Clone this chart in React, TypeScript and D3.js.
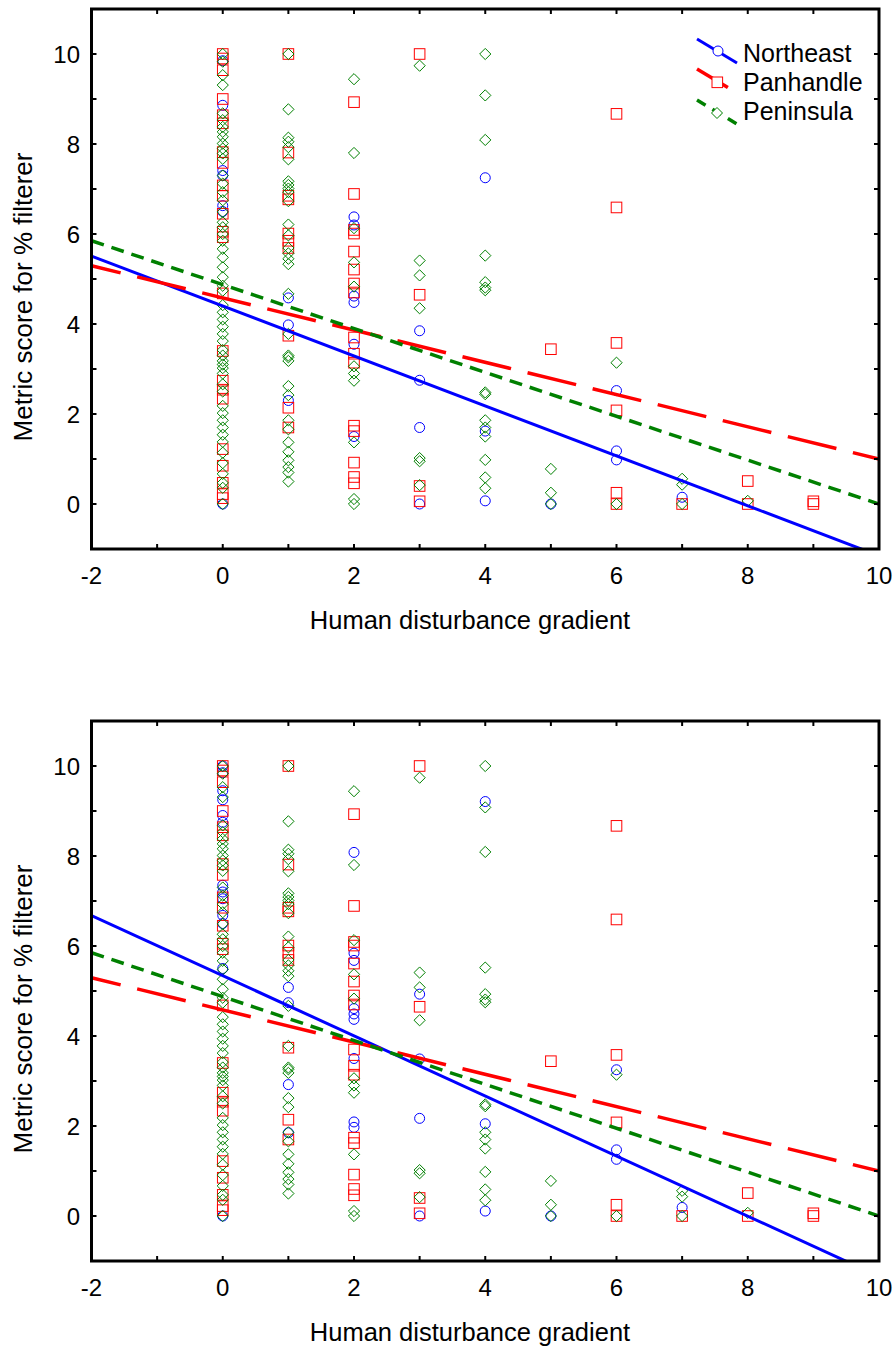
import React from 'react';
import * as d3 from 'd3';

// ---------- data ----------
const xTickValues = [-2, 0, 2, 4, 6, 8, 10];
const yTickValues = [0, 2, 4, 6, 8, 10];
const seriesNames = ['Northeast', 'Panhandle', 'Peninsula'];
const xTitle = 'Human disturbance gradient';
const yTitle = 'Metric score for % filterer';

// y values per disturbance level (array index = x value)
const northeastTop: number[][] = [
  [9.85, 8.86, 7.41, 7.3, 6.63, 6.5, 0],
  [4.58, 3.98, 2.3],
  [6.38, 6.2, 4.62, 4.48, 3.55, 1.5],
  [3.85, 2.75, 1.7, 0],
  [7.25, 1.62, 0.07],
  [0],
  [2.52, 1.18, 0.98],
  [0.15],
];

const northeastBottom: number[][] = [
  [10, 9.85, 9.45, 9.25, 8.9, 8.75, 7.35, 7.2, 7.05, 6.68, 6.5, 5.5, 0],
  [5.08, 4.74, 2.92, 1.85],
  [8.08, 5.84, 5.68, 4.61, 4.49, 4.37, 3.5, 2.09, 1.97],
  [4.93, 3.49, 2.17, 0],
  [9.21, 2.05, 0.11],
  [0],
  [3.25, 1.47, 1.26],
  [0.19],
];

const panhandle: number[][] = [
  [10, 9.9, 9.64, 9.0, 8.64, 8.46, 7.82, 7.58, 7.08, 6.85, 6.45, 6.05, 5.93, 4.68, 3.4, 2.74, 2.54, 2.34, 1.22, 0.85, 0.47, 0.22, 0.13],
  [10, 7.81, 6.85, 6.77, 6.01, 5.85, 5.69, 3.74, 2.14, 1.7],
  [8.93, 6.89, 6.09, 6.01, 5.61, 5.21, 4.9, 4.7, 3.7, 3.34, 3.14, 1.74, 1.62, 0.92, 0.6, 0.46],
  [10, 4.65, 0.4, 0.06],
  [],
  [3.44],
  [8.67, 6.59, 3.58, 2.08, 0.25, 0],
  [0],
  [0.51, 0],
  [0.06, 0],
];

const peninsula: number[][] = [
  [10, 9.83, 9.53, 9.31, 8.68, 8.53, 8.38, 8.27, 8.16, 8.01, 7.9, 7.79, 7.67, 7.3, 7.12, 6.93, 6.75, 6.49, 6.26, 6.15, 6.0, 5.85, 5.67, 5.48, 5.26, 5.04, 4.85, 4.74, 4.42, 4.26, 4.1, 3.94, 3.78, 3.62, 3.42, 3.3, 3.18, 3.1, 3.02, 2.9, 2.66, 2.5, 2.18, 2.02, 1.86, 1.7, 1.54, 1.38, 1.14, 0.91, 0.67, 0.47, 0.36, 0],
  [10, 8.77, 8.14, 8.05, 7.93, 7.66, 7.17, 7.09, 7.01, 6.93, 6.73, 6.21, 5.97, 5.69, 5.57, 5.45, 5.33, 4.67, 3.78, 3.3, 3.26, 3.18, 2.62, 2.42, 1.86, 1.66, 1.37, 1.16, 0.97, 0.82, 0.7, 0.5],
  [9.44, 7.8, 6.13, 5.37, 4.83, 3.06, 2.9, 2.74, 1.37, 0.11, 0],
  [9.74, 5.41, 5.08, 4.35, 1.02, 0.95, 0.42],
  [10, 9.08, 8.09, 5.52, 4.93, 4.81, 4.75, 2.48, 2.44, 1.86, 1.7, 1.5, 0.98, 0.59, 0.35],
  [0.78, 0.25, 0],
  [3.14, 0],
  [0.56, 0.43, 0],
  [0.07],
];

// regression fits: y = a + b * x
const northeastTopFit = { a: 4.4, b: -0.555 };
const northeastBottomFit = { a: 5.34, b: -0.668 };
const panhandleFit = { a: 4.58, b: -0.358 };
const peninsulaFit = { a: 4.875, b: -0.4875 };

// ---------- styling ----------
const BLUE = '#0000ff';
const RED = '#ff0000';
const GREEN = '#008000';
const FONT = '"Liberation Sans", Arial, Helvetica, sans-serif';
const RED_DASH = '50,17';
const GREEN_DASH = '13,8';

const W = 895;
const H = 1349;
const LEFT = 91.5;
const RIGHT = 879;
const PANEL_H = 540;

const xScale = d3.scaleLinear().domain([-2, 10]).range([LEFT, RIGHT]);

function Circle({ x, y }: { x: number; y: number }) {
  return <circle cx={x} cy={y} r={5} fill="none" stroke={BLUE} strokeWidth={1} />;
}
function Square({ x, y }: { x: number; y: number }) {
  const s = 10.6;
  return <rect x={x - s / 2} y={y - s / 2} width={s} height={s} fill="none" stroke={RED} strokeWidth={1} />;
}
function Diamond({ x, y }: { x: number; y: number }) {
  const r = 5.6;
  return (
    <path d={`M${x},${y - r}L${x + r},${y}L${x},${y + r}L${x - r},${y}Z`} fill="none" stroke={GREEN} strokeWidth={1} />
  );
}

function flatten(data: number[][]) {
  const out: { x: number; y: number }[] = [];
  data.forEach((ys, xi) => ys.forEach((y) => out.push({ x: xi, y })));
  return out;
}

function Panel({ top, ne, neFit, legend, id }: { top: number; ne: number[][]; neFit: { a: number; b: number }; legend: boolean; id: string }) {
  const yScale = d3.scaleLinear().domain([-1, 11]).range([top + PANEL_H, top]);
  const bottom = top + PANEL_H;
  const fitPath = (f: { a: number; b: number }) => {
    const xs = [-2, 10];
    return d3
      .line<number>()
      .x((d) => xScale(d))
      .y((d) => yScale(f.a + f.b * d))(xs) as string;
  };
  const xMinor = d3.range(-2, 11);
  const yMinor = d3.range(-1, 12);
  const tick = 5;
  return (
    <g>
      <defs>
        <clipPath id={id}>
          <rect x={LEFT} y={top} width={RIGHT - LEFT} height={PANEL_H} />
        </clipPath>
      </defs>
      <g clipPath={`url(#${id})`}>
        {flatten(ne).map((p, i) => (
          <Circle key={'n' + i} x={xScale(p.x)} y={yScale(p.y)} />
        ))}
        {flatten(panhandle).map((p, i) => (
          <Square key={'p' + i} x={xScale(p.x)} y={yScale(p.y)} />
        ))}
        {flatten(peninsula).map((p, i) => (
          <Diamond key={'g' + i} x={xScale(p.x)} y={yScale(p.y)} />
        ))}
        <path d={fitPath(neFit)} stroke={BLUE} strokeWidth={3} fill="none" />
        <path d={fitPath(panhandleFit)} stroke={RED} strokeWidth={3.5} fill="none" strokeDasharray={RED_DASH} strokeDashoffset={20} />
        <path d={fitPath(peninsulaFit)} stroke={GREEN} strokeWidth={3.5} fill="none" strokeDasharray={GREEN_DASH} />
      </g>
      {xMinor.map((v) => (
        <g key={'xt' + v}>
          <line x1={xScale(v)} x2={xScale(v)} y1={top} y2={top + tick} stroke="#000" strokeWidth={2} />
          <line x1={xScale(v)} x2={xScale(v)} y1={bottom} y2={bottom - tick} stroke="#000" strokeWidth={2} />
        </g>
      ))}
      {yMinor.map((v) => (
        <g key={'yt' + v}>
          <line x1={LEFT} x2={LEFT + tick} y1={yScale(v)} y2={yScale(v)} stroke="#000" strokeWidth={2} />
          <line x1={RIGHT} x2={RIGHT - tick} y1={yScale(v)} y2={yScale(v)} stroke="#000" strokeWidth={2} />
        </g>
      ))}
      <rect x={LEFT} y={top} width={RIGHT - LEFT} height={PANEL_H} fill="none" stroke="#000" strokeWidth={3} />
      {xTickValues.map((v) => (
        <text key={'xl' + v} x={xScale(v)} y={bottom + 35} textAnchor="middle" fontSize={24} fontFamily={FONT}>
          {v}
        </text>
      ))}
      {yTickValues.map((v) => (
        <text key={'yl' + v} x={80} y={yScale(v) + 8.5} textAnchor="end" fontSize={24} fontFamily={FONT}>
          {v}
        </text>
      ))}
      <text x={470} y={bottom + 80} textAnchor="middle" fontSize={25.5} fontFamily={FONT}>
        {xTitle}
      </text>
      <text transform={`translate(32, ${top + 288}) rotate(-90)`} textAnchor="middle" fontSize={26} fontFamily={FONT}>
        {yTitle}
      </text>
      {legend && (
        <g>
          <line x1={697} y1={39} x2={737} y2={63} stroke={BLUE} strokeWidth={3} />
          <circle cx={718} cy={51} r={5} fill="#fff" stroke={BLUE} strokeWidth={1} />
          <line x1={697} y1={69} x2={737} y2={93} stroke={RED} strokeWidth={3.5} strokeDasharray="36,40" />
          <rect x={712} y={77} width={10.6} height={10.6} fill="#fff" stroke={RED} strokeWidth={1} />
          <line x1={697} y1={100} x2={737} y2={124} stroke={GREEN} strokeWidth={3.5} strokeDasharray="10,8" />
          <path d="M717,107.5L722.5,113L717,118.5L711.5,113Z" fill="#fff" stroke={GREEN} strokeWidth={1} />
          {seriesNames.map((n, i) => (
            <text key={n} x={743} y={62 + i * 29} fontSize={25} fontFamily={FONT}>
              {n}
            </text>
          ))}
        </g>
      )}
    </g>
  );
}

export default function App() {
  return (
    <svg width={W} height={H} style={{ position: 'absolute', left: 0, top: 0, background: '#fff' }} xmlns="http://www.w3.org/2000/svg">
      <rect x={0} y={0} width={W} height={H} fill="#fff" />
      <Panel top={9} ne={northeastTop} neFit={northeastTopFit} legend={true} id="clipTop" />
      <Panel top={721} ne={northeastBottom} neFit={northeastBottomFit} legend={false} id="clipBottom" />
    </svg>
  );
}
